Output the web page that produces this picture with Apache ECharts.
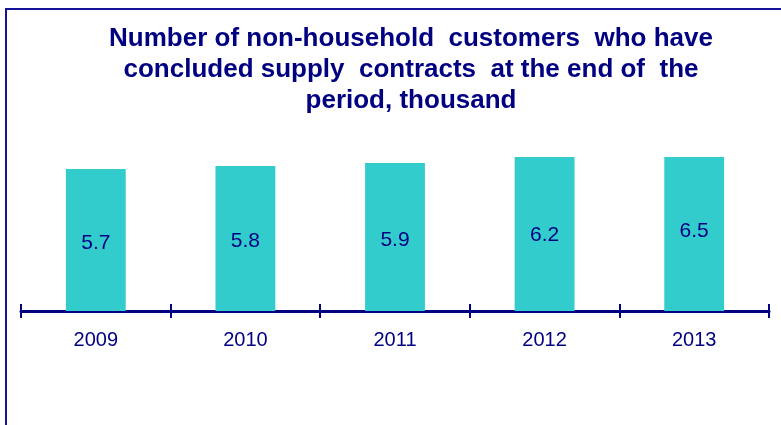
<!DOCTYPE html>
<html>
<head>
<meta charset="utf-8">
<script src="https://cdn.jsdelivr.net/npm/echarts@6/dist/echarts.min.js"></script>
<style>
  html, body { margin: 0; padding: 0; background: #fff; }
  #chart { width: 781px; height: 425px; }
</style>
</head>
<body>
<div id="chart"></div>
<script>
// data
const years = ['2009', '2010', '2011', '2012', '2013'];
const customers = [5.7, 5.8, 5.9, 6.2, 6.5];
const titleText = 'Number of non-household  customers  who have\nconcluded supply  contracts  at the end of  the\nperiod, thousand';

const navy = '#000080';
const axisMin = 1;
const axisMax = 6.1; // last two bars run past the top of the plot and get clipped

const chart = echarts.init(document.getElementById('chart'));
const option = {
  animation: false,
  graphic: [
    {
      type: 'rect',
      shape: { x: 6, y: 9, width: 820, height: 460 },
      style: { fill: 'none', stroke: '#14149a', lineWidth: 2 },
      silent: true,
    },
  ],
  title: {
    text: titleText,
    left: 406,
    textAlign: 'center',
    top: 18,
    textStyle: {
      color: navy,
      fontFamily: 'Liberation Sans, Arial, sans-serif',
      fontWeight: 'bold',
      fontSize: 26,
      lineHeight: 31,
    },
  },
  grid: {
    left: 21,
    right: 12,
    top: 157,
    bottom: 425 - 311,
    containLabel: false,
  },
  xAxis: [
    {
      type: 'category',
      position: 'bottom',
      data: years,
      axisLine: { lineStyle: { color: navy, width: 3 } },
      axisTick: { show: true, inside: false, length: 7, lineStyle: { color: navy, width: 2 } },
      axisLabel: {
        color: navy,
        fontFamily: 'Liberation Sans, Arial, sans-serif',
        fontSize: 20,
        margin: 19,
      },
    },
    {
      type: 'category',
      position: 'bottom',
      offset: 0,
      data: years,
      axisLine: { show: false },
      axisTick: { show: true, inside: true, length: 7, lineStyle: { color: navy, width: 2 } },
      axisLabel: { show: false },
    },
  ],
  yAxis: {
    type: 'value',
    min: axisMin,
    max: axisMax,
    show: false,
    splitLine: { show: false },
  },
  series: [
    {
      type: 'bar',
      data: customers,
      barWidth: '40%',
      clip: true,
      itemStyle: { color: '#33CCCC' },
      label: {
        show: true,
        position: 'inside',
        color: navy,
        fontFamily: 'Liberation Sans, Arial, sans-serif',
        fontSize: 21,
        formatter: p => p.value.toFixed(1),
      },
      // centre labels on the full (unclipped) bar, a little low like the original
      labelLayout: function (params) {
        const i = params.dataIndex;
        const top = chart.convertToPixel({ seriesIndex: 0 }, [i, customers[i]]);
        const base = chart.convertToPixel({ seriesIndex: 0 }, [i, axisMin]);
        return {
          x: top[0],
          y: (top[1] + base[1]) / 2 + 3,
          align: 'center',
          verticalAlign: 'middle',
        };
      },
    },
  ],
};
chart.setOption(option);
</script>
</body>
</html>
